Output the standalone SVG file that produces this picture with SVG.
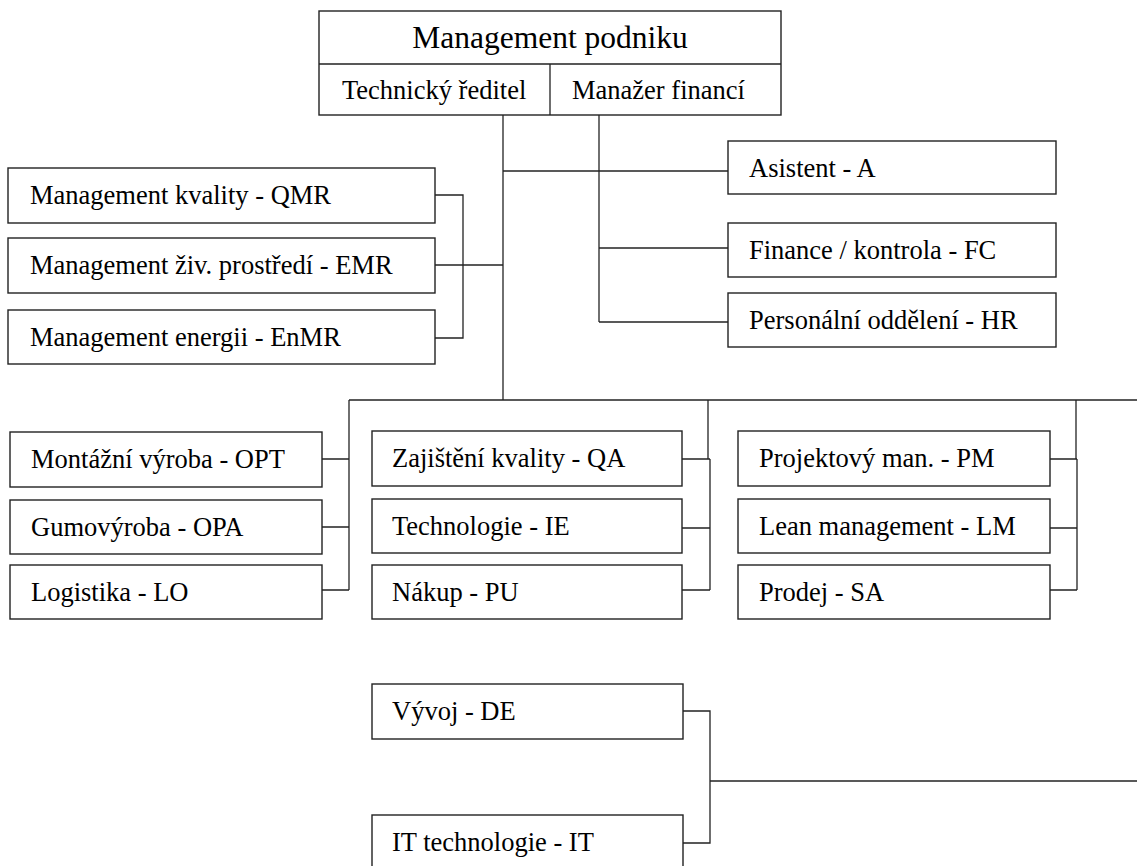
<svg xmlns="http://www.w3.org/2000/svg" width="1137" height="866" viewBox="0 0 1137 866">
  <style>
    .box { fill: #ffffff; stroke: #222222; stroke-width: 1.4; }
    .wire { fill: none; stroke: #222222; stroke-width: 1.3; }
    text { font-family: 'Liberation Serif', 'DejaVu Serif', serif; fill: #000000; }
    .lbl { font-size: 26.5px; }
    .title { font-size: 31.5px; }
  </style>
  <rect width="1137" height="866" fill="#ffffff"/>

  <!-- connectors -->
  <g id="connectors" class="wire">
    <!-- management to top-level staff -->
    <path d="M503 115 V400"/>
    <path d="M599 115 V322"/>
    <path d="M503 171 H728"/>
    <path d="M599 248 H728"/>
    <path d="M599 322 H728"/>
    <!-- management systems bracket -->
    <path d="M435 195 H463 V338 H435"/>
    <path d="M435 265 H503"/>
    <!-- departments bus -->
    <path d="M349 400 H1137"/>
    <path d="M349 400 V590"/>
    <path d="M322 459 H349 M322 527 H349 M322 590 H349"/>
    <path d="M708 400 V459"/>
    <path d="M710 459 V590"/>
    <path d="M682 459 H710 M682 528 H710 M682 590 H710"/>
    <path d="M1076 400 V459"/>
    <path d="M1077 459 V590"/>
    <path d="M1050 459 H1077 M1050 528 H1077 M1050 590 H1077"/>
    <!-- development / IT -->
    <path d="M683 711 H710 V843 H683"/>
    <path d="M710 781 H1137"/>
  </g>

  <!-- top management -->
  <g id="management">
    <rect class="box" x="319" y="11" width="462" height="104"/>
    <path class="wire" d="M319 64 H781 M550 64 V115"/>
    <text class="title" x="550" y="48" text-anchor="middle" font-family="Liberation Serif, serif">Management podniku</text>
    <text class="lbl" x="342" y="99" font-family="Liberation Serif, serif">Technický ředitel</text>
    <text class="lbl" x="572" y="99" font-family="Liberation Serif, serif">Manažer financí</text>
  </g>

  <g id="asistent">
    <rect class="box" x="728" y="141" width="328" height="53"/>
    <text class="lbl" x="749" y="177">Asistent - A</text>
  </g>
  <g id="finance">
    <rect class="box" x="728" y="223" width="328" height="54"/>
    <text class="lbl" x="749" y="259">Finance / kontrola - FC</text>
  </g>
  <g id="personalni">
    <rect class="box" x="728" y="293" width="328" height="54"/>
    <text class="lbl" x="749" y="329">Personální oddělení - HR</text>
  </g>

  <g id="qmr">
    <rect class="box" x="8" y="168" width="427" height="55"/>
    <text class="lbl" x="30" y="204">Management kvality - QMR</text>
  </g>
  <g id="emr">
    <rect class="box" x="8" y="238" width="427" height="55"/>
    <text class="lbl" x="30" y="274">Management živ. prostředí - EMR</text>
  </g>
  <g id="enmr">
    <rect class="box" x="8" y="310" width="427" height="54"/>
    <text class="lbl" x="30" y="346">Management energii - EnMR</text>
  </g>

  <g id="opt">
    <rect class="box" x="10" y="432" width="312" height="55"/>
    <text class="lbl" x="31" y="468">Montážní výroba - OPT</text>
  </g>
  <g id="opa">
    <rect class="box" x="10" y="500" width="312" height="54"/>
    <text class="lbl" x="31" y="536">Gumovýroba - OPA</text>
  </g>
  <g id="lo">
    <rect class="box" x="10" y="565" width="312" height="54"/>
    <text class="lbl" x="31" y="601">Logistika - LO</text>
  </g>

  <g id="qa">
    <rect class="box" x="372" y="431" width="310" height="55"/>
    <text class="lbl" x="392" y="467">Zajištění kvality - QA</text>
  </g>
  <g id="ie">
    <rect class="box" x="372" y="499" width="310" height="54"/>
    <text class="lbl" x="392" y="535">Technologie - IE</text>
  </g>
  <g id="pu">
    <rect class="box" x="372" y="565" width="310" height="54"/>
    <text class="lbl" x="392" y="601">Nákup - PU</text>
  </g>

  <g id="pm">
    <rect class="box" x="738" y="431" width="312" height="55"/>
    <text class="lbl" x="759" y="467">Projektový man. - PM</text>
  </g>
  <g id="lm">
    <rect class="box" x="738" y="499" width="312" height="54"/>
    <text class="lbl" x="759" y="535">Lean management - LM</text>
  </g>
  <g id="sa">
    <rect class="box" x="738" y="565" width="312" height="54"/>
    <text class="lbl" x="759" y="601">Prodej - SA</text>
  </g>

  <g id="de">
    <rect class="box" x="372" y="684" width="311" height="55"/>
    <text class="lbl" x="392" y="720">Vývoj - DE</text>
  </g>
  <g id="it">
    <rect class="box" x="372" y="815" width="311" height="60"/>
    <text class="lbl" x="392" y="851">IT technologie - IT</text>
  </g>
</svg>
